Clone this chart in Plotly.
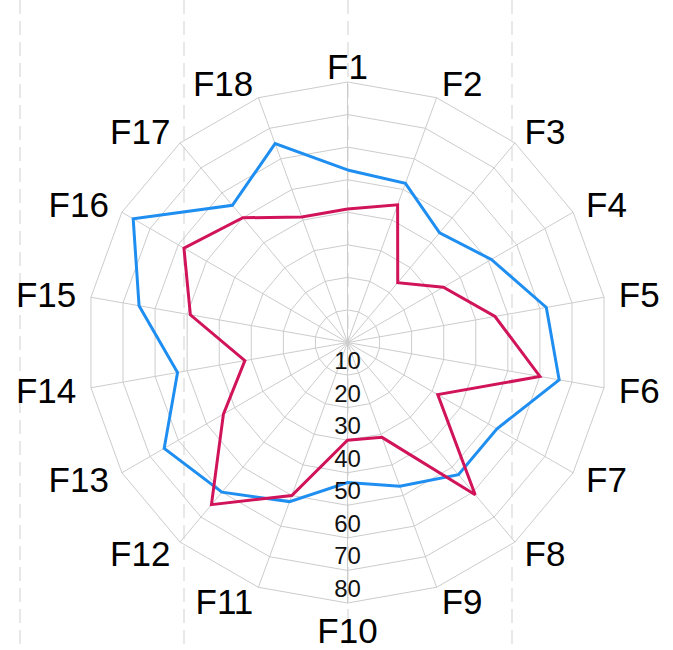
import plotly.graph_objects as go

categories = ["F%d" % i for i in range(1, 19)]
series_blue = [53, 52, 44, 51, 62, 66, 53, 53, 47, 43, 52, 60, 65, 53, 65, 76, 55, 65]
series_red = [41, 45, 24, 34, 46, 60, 32, 61, 31, 30, 50, 65, 44, 32, 49, 58, 50, 41]
radial_ticks = [10, 20, 30, 40, 50, 60, 70, 80]
radial_labels = [str(v) for v in radial_ticks]
bg_grid_x = [0, 1, 2, 3, 4]

BLUE = "#1f8ef1"
RED = "#d1145a"
GRID = "#cccccc"
FONT = "Liberation Sans, Arial, sans-serif"

W, H = 673, 650
cx, cy, R = 347.5, 342.5, 260.5
RMAX = radial_ticks[-1]
PX_PER_UNIT = R / RMAX
EXT = 1.12            # label layer is a larger, concentric polar with the same scale
R2 = R * EXT
cy2 = cy + 3.5        # small baseline nudge for the name labels

fig = go.Figure()

# background dashed vertical guides (cartesian grid)
fig.add_trace(go.Scatter(x=bg_grid_x, y=[0.5] * len(bg_grid_x), mode="none",
                         hoverinfo="skip", showlegend=False))

def closed(vals):
    return list(vals) + [vals[0]]

fig.add_trace(go.Scatterpolar(r=closed(series_blue), theta=closed(categories),
                              mode="lines", line=dict(color=BLUE, width=3),
                              showlegend=False))
fig.add_trace(go.Scatterpolar(r=closed(series_red), theta=closed(categories),
                              mode="lines", line=dict(color=RED, width=3),
                              showlegend=False))
fig.add_trace(go.Scatterpolar(r=radial_ticks, theta=[categories[9]] * len(radial_ticks),
                              mode="text", text=radial_labels, textposition="top center",
                              textfont=dict(size=24, color="#111111", family=FONT),
                              cliponaxis=False, hoverinfo="skip", showlegend=False))

# category name labels placed just outside the outer polygon
n = len(categories)
side_r = RMAX + 15 / PX_PER_UNIT
bottom_r = RMAX + 10 / PX_PER_UNIT
label_pos, label_r = [], []
for i in range(n):
    if i == 0:
        label_pos.append("middle center"); label_r.append(side_r)
    elif i == n // 2:
        label_pos.append("bottom center"); label_r.append(bottom_r)
    elif i < n // 2:
        label_pos.append("middle right"); label_r.append(side_r)
    else:
        label_pos.append("middle left"); label_r.append(side_r)

fig.add_trace(go.Scatterpolar(r=label_r, theta=categories, mode="text",
                              text=categories, textposition=label_pos,
                              textfont=dict(size=35, color="#000000", family=FONT),
                              cliponaxis=False, hoverinfo="skip", showlegend=False,
                              subplot="polar2"))

fig.update_layout(
    width=W, height=H,
    margin=dict(l=0, r=0, t=0, b=0),
    paper_bgcolor="white", plot_bgcolor="white",
    showlegend=False,
    xaxis=dict(domain=[0, 1], range=[-20 / 164, (W - 20) / 164], tickvals=bg_grid_x,
               showgrid=True, gridcolor="#e8e8e8", gridwidth=2, griddash="14px,7px",
               showticklabels=False, zeroline=False, showline=False, ticks="",
               fixedrange=True),
    yaxis=dict(domain=[0, 1], range=[0, 1], visible=False, fixedrange=True),
    polar=dict(
        domain=dict(x=[(cx - R) / W, (cx + R) / W],
                    y=[(H - cy - R) / H, (H - cy + R) / H]),
        bgcolor="rgba(0,0,0,0)",
        gridshape="linear",
        radialaxis=dict(range=[0, RMAX], tickvals=radial_ticks, showticklabels=False,
                        showline=False, ticks="", gridcolor=GRID, gridwidth=1),
        angularaxis=dict(categoryarray=categories, categoryorder="array",
                         rotation=90, direction="clockwise",
                         showticklabels=False,
                         ticks="", showline=True, linecolor=GRID, linewidth=1,
                         gridcolor=GRID, gridwidth=1),
    ),
    polar2=dict(
        domain=dict(x=[(cx - R2) / W, (cx + R2) / W],
                    y=[(H - cy2 - R2) / H, (H - cy2 + R2) / H]),
        bgcolor="rgba(0,0,0,0)",
        gridshape="linear",
        radialaxis=dict(range=[0, RMAX * EXT], visible=False),
        angularaxis=dict(categoryarray=categories, categoryorder="array",
                         rotation=90, direction="clockwise", visible=False),
    ),
)

fig.write_html("out.html", config={"displayModeBar": False},
               post_script="document.body.style.margin='0';document.body.style.overflow='hidden';")
